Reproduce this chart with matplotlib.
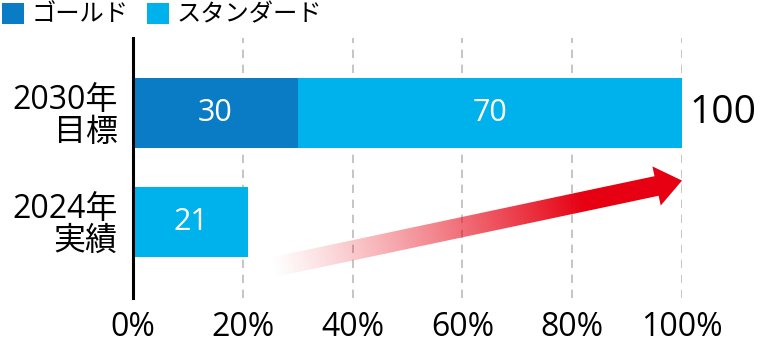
import numpy as np
import matplotlib
matplotlib.use("Agg")
import matplotlib.pyplot as plt
from matplotlib.patches import Polygon, Rectangle

plt.rcParams['font.family'] = ['Open Sans', 'Noto Sans CJK JP', 'DejaVu Sans']

categories = ["2030年\n目標", "2024年\n実績"]
gold = [30, 0]
standard = [70, 21]
totals = [100, None]
series_names = ["ゴールド", "スタンダード"]
xticks = [0, 20, 40, 60, 80, 100]
xticklabels = ["0%", "20%", "40%", "60%", "80%", "100%"]
arrow_start = (25, -0.42)
arrow_end = (100, 0.38)

c_gold = "#0A7CC5"
c_std = "#00B2EB"
c_red = "#E60012"

W, H = 760, 356
fig = plt.figure(figsize=(W/100, H/100), dpi=100)
ax = fig.add_axes([133/W, 1-298/H, (682-133)/W, (298-38)/H])

y = np.array([1, 0])
h = 0.645
ax.barh(y, gold, height=h, color=c_gold, zorder=3)
ax.barh(y, standard, left=gold, height=h, color=c_std, zorder=3)

for yi, g, s in zip(y, gold, standard):
    if g > 0:
        ax.text(g/2, yi, str(g), ha='center', va='center', color='white', fontsize=22, zorder=4)
    if s > 0:
        ax.text(g + s/2, yi, str(s), ha='center', va='center', color='white', fontsize=22, zorder=4)
for yi, t in zip(y, totals):
    if t is not None:
        ax.text(101.3, yi, str(t), ha='left', va='center', color='black', fontsize=28, zorder=4)

ax.set_xlim(0, 100)
ax.set_ylim(-0.697, 1.688)
ax.set_xticks(xticks)
ax.set_xticklabels(xticklabels, fontsize=23)
ax.set_yticks(y)
ax.set_yticklabels(categories, fontsize=23, linespacing=0.95, ha='right')
ax.tick_params(axis='both', length=0)
ax.tick_params(axis='x', pad=9)
ax.tick_params(axis='y', pad=11)
for sp in ['top', 'right', 'bottom']:
    ax.spines[sp].set_visible(False)
ax.spines['left'].set_linewidth(2.2)
ax.spines['left'].set_zorder(5)
for xv in xticks[1:]:
    ax.axvline(xv, color='#BBBBBB', lw=1.2, ls=(0, (5, 4)), zorder=1)

# gradient arrow
fig.canvas.draw()
T = ax.transData
p0 = np.array(T.transform(arrow_start))
p1 = np.array(T.transform(arrow_end))
d = p1 - p0
L = np.hypot(*d)
u = d / L
n = np.array([-u[1], u[0]])
shaft_w = 20
head_w = 40
head_l = 26
base = p1 - u * head_l
pts = [p0 + n*shaft_w/2, base + n*shaft_w/2, base + n*head_w/2, p1,
       base - n*head_w/2, base - n*shaft_w/2, p0 - n*shaft_w/2]
poly = Polygon(pts, closed=True, transform=None, facecolor='none', edgecolor='none')
ax.add_patch(poly)

xs_px = np.array([p[0] for p in pts]); ys_px = np.array([p[1] for p in pts])
x0, x1 = xs_px.min()-2, xs_px.max()+2
y0, y1 = ys_px.min()-2, ys_px.max()+2
nx, ny = 600, 200
gx, gy = np.meshgrid(np.linspace(x0, x1, nx), np.linspace(y1, y0, ny))
tt = ((gx - p0[0]) * u[0] + (gy - p0[1]) * u[1]) / L
tt = np.clip(tt, 0, 1)
alpha = np.clip(tt / 0.76, 0, 1) ** 1.15
img = np.zeros((ny, nx, 4))
rgb = matplotlib.colors.to_rgb(c_red)
img[..., 0] = rgb[0]; img[..., 1] = rgb[1]; img[..., 2] = rgb[2]
img[..., 3] = alpha
inv = T.inverted()
dx0, dy0 = inv.transform((x0, y0))
dx1, dy1 = inv.transform((x1, y1))
im = ax.imshow(img, extent=[dx0, dx1, dy0, dy1], aspect='auto', zorder=6, interpolation='bilinear')
im.set_clip_path(poly)
ax.set_xlim(0, 100)
ax.set_ylim(-0.697, 1.688)

# legend (manual, in figure pixels)
leg_x = [2, 147]
for lx, name, col in zip(leg_x, series_names, [c_gold, c_std]):
    fig.patches.append(Rectangle((lx/W, 1-24/H), 22/W, 21/H, transform=fig.transFigure,
                                 facecolor=col, edgecolor='none'))
    fig.text((lx+30)/W, 1-14/H, name, ha='left', va='center', fontsize=17.5,
             family=['Noto Sans CJK JP', 'DejaVu Sans'])

fig.savefig("out.png", dpi=100)
